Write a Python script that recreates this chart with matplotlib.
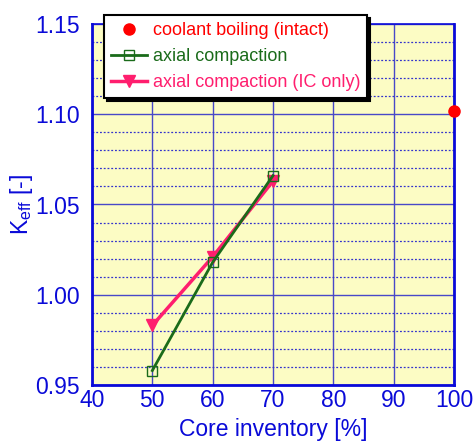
import numpy as np
import matplotlib.pyplot as plt
from matplotlib.ticker import MultipleLocator

plt.rcParams['font.family'] = ['Liberation Sans', 'DejaVu Sans']
plt.rcParams['mathtext.fontset'] = 'custom'
plt.rcParams['mathtext.rm'] = 'Liberation Sans'

# dati
inventario = [50, 60, 70]
keff_compattazione = [0.958, 1.018, 1.066]
keff_compattazione_ic = [0.983, 1.021, 1.063]
inventario_ebollizione = [100]
keff_ebollizione = [1.102]

blu = '#0a0ad8'

fig = plt.figure(figsize=(4.73, 4.46), dpi=100)
ax = fig.add_axes([92/473, 1-385/446, 362/473, 361/446])
ax.set_facecolor('#fcfcc4')

ax.plot(inventario_ebollizione, keff_ebollizione, 'o', color='#ff0000', markersize=8,
        label='coolant boiling (intact)', clip_on=False, zorder=5)
ax.plot(inventario, keff_compattazione, '-s', color='#1a6b1a', linewidth=2, markersize=7.5,
        markerfacecolor='none', label='axial compaction', zorder=4)
ax.plot(inventario, keff_compattazione_ic, '-v', color='#ff1e6e', linewidth=2.5, markersize=8,
        label='axial compaction (IC only)', zorder=3)

ax.set_xlim(40, 100)
ax.set_ylim(0.95, 1.15)
ax.yaxis.set_minor_locator(MultipleLocator(0.01))
ax.grid(which='major', color='#4848c8', linewidth=1)
ax.grid(which='minor', axis='y', color='#3333cc', linewidth=0.9, linestyle=(0, (1.5, 1.5)))
ax.tick_params(which='both', length=0, colors=blu, labelsize=16.5)
ax.tick_params(axis='y', pad=9)
ax.tick_params(axis='x', pad=3)
ax.set_xticks(np.arange(40, 101, 10))
ax.set_yticks(np.arange(0.95, 1.151, 0.05))
ax.set_yticklabels(['%.2f' % v for v in np.arange(0.95, 1.151, 0.05)])
for s in ax.spines.values():
    s.set_color(blu)
    s.set_linewidth(2)
ax.spines['top'].set_linewidth(1.2)

ax.set_xlabel('Core inventory [%]', color=blu, fontsize=16.5, labelpad=4)
ax.set_ylabel(r'K$_{\rm eff}$ [-]', color=blu, fontsize=16.5, labelpad=0)

leg = ax.legend(loc='upper left', bbox_to_anchor=(0.033, 1.025), fontsize=13, frameon=True,
                fancybox=False, shadow={'color': 'black', 'alpha': 1}, borderpad=0.4,
                handlelength=2.0, handletextpad=0.3, labelspacing=0.5, borderaxespad=0,
                framealpha=1)
leg.get_frame().set_edgecolor('black')
leg.get_frame().set_linewidth(1.5)
for testo, linea in zip(leg.get_texts(), leg.get_lines()):
    testo.set_color(linea.get_color())

fig.savefig('out.png', dpi=100)
